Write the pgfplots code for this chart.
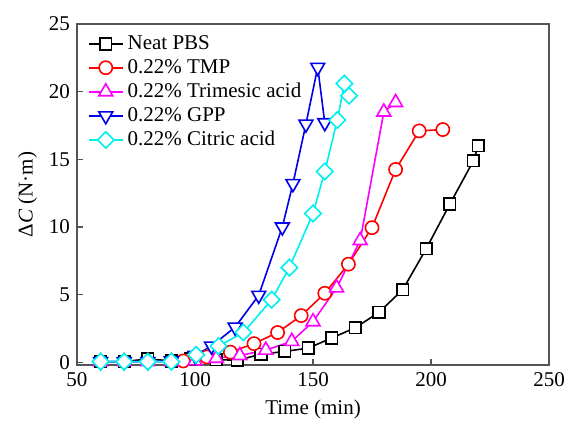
\documentclass[border=0pt]{standalone}
\usepackage{pgfplots}
\pgfplotsset{compat=1.18}
\usepackage{fontspec}
\setmainfont{Liberation Serif}
\usetikzlibrary{calc}
\definecolor{framegray}{RGB}{85,85,85}
\definecolor{cmag}{RGB}{255,0,255}
\definecolor{cblue}{RGB}{0,0,235}
\definecolor{ccyan}{RGB}{0,240,240}
\begin{document}
\begin{tikzpicture}
\begin{axis}[
  name=ax,
  scale only axis,
  width=236pt, height=170.5pt,
  xmin=50, xmax=250, ymin=-0.2, ymax=25,
  xtick={50,100,150,200,250},
  ytick={0,5,10,15,20,25},
  tick align=inside,
  xtick pos=bottom, ytick pos=left,
  major tick length=3pt,
  axis line style={framegray, line width=0.8pt},
  tick style={framegray, line width=0.6pt},
  /pgf/number format/assume math mode=true,
  tick label style={font=\fontsize{10.5}{12}\selectfont},
  label style={font=\fontsize{10.5}{12}\selectfont},
  xlabel={Time (min)},
  ylabel={Δ\textit{C} (N·m)},
  xlabel style={yshift=0pt},
  ylabel style={yshift=-1pt},
  legend style={draw=none, fill=none, at={(0.018,0.985)}, anchor=north west,
    font=\fontsize{10.5}{12}\selectfont, row sep=-0.6pt, inner sep=1pt},
  legend cell align=left,
  every axis plot/.append style={line width=0.8pt},
]
\addplot[black, mark=square*, mark size=2.9pt, mark options={solid, fill=white}] coordinates {
 (60,0.05) (70,0.05) (80,0.25) (90,0.1) (98,0.25) (109,0.2) (118,0.15) (128,0.6)
 (138,0.8) (148,1.05) (158,1.8) (168,2.56) (178,3.7) (188,5.36) (198,8.4)
 (208,11.7) (218,14.9) (220,16.0)};
\addlegendentry{Neat PBS}
\addplot[red, mark=*, mark size=3.3pt, mark options={solid, fill=white}] coordinates {
 (95,0.1) (105,0.4) (115,0.75) (125,1.38) (135,2.2) (145,3.45) (155,5.1)
 (165,7.25) (175,9.95) (185,14.25) (195,17.1) (205,17.2)};
\addlegendentry{0.22\% TMP}
\addplot[cmag, mark=triangle*, mark size=4pt, mark options={solid, fill=white}] coordinates {
 (60,0.05) (70,0.05) (80,0.05) (90,0.05) (100,0.1) (109,0.3) (119,0.5) (130,0.9)
 (141,1.55) (150,3.0) (160,5.5) (170,9.0) (180,18.5) (185,19.2)};
\addlegendentry{0.22\% Trimesic acid}
\addplot[cblue, mark=triangle*, mark size=4pt, mark options={solid, fill=white, rotate=180}] coordinates {
 (60,0.05) (70,0.05) (80,0.05) (90,0.1) (100,0.5) (107,1.2) (117,2.6) (127,4.95)
 (137,10.0) (141.5,13.2) (147,17.6) (152,21.8) (155,17.7)};
\addlegendentry{0.22\% GPP}
\addplot[ccyan, mark=square*, mark size=2.9pt, mark options={solid, fill=white, rotate=45}] coordinates {
 (60,0.05) (70,0.05) (80,0.05) (90,0.05) (100.5,0.55) (110,1.2) (120.5,2.2)
 (132.5,4.63) (140,7.0) (150,11.0) (155,14.1) (160.3,17.9) (163.3,20.6) (165.3,19.7)};
\addlegendentry{0.22\% Citric acid}
\end{axis}
\pgfresetboundingbox
\path[use as bounding box] ($(ax.south west)+(-38.5pt,-29pt)$) rectangle ($(ax.north east)+(8pt,12pt)$);
\end{tikzpicture}
\end{document}
